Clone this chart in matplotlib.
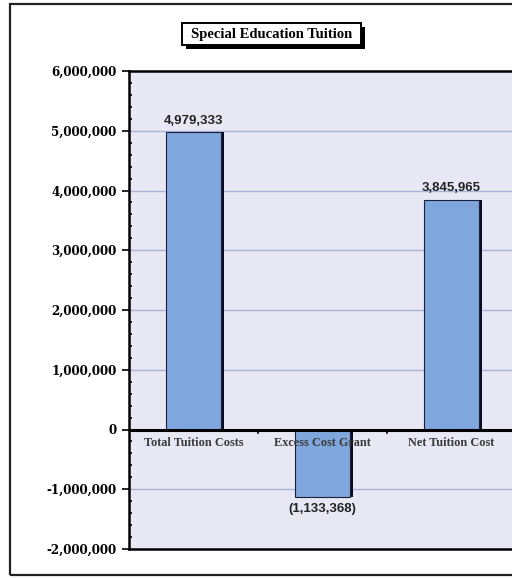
import matplotlib.pyplot as plt
import matplotlib.patches as patches
from matplotlib.ticker import MultipleLocator, FuncFormatter

# Tuition figures
categories = ["Total Tuition Costs", "Excess Cost Grant", "Net Tuition Cost"]
amounts = [4979333, -1133368, 3845965]
bar_labels = ["4,979,333", "(1,133,368)", "3,845,965"]

W, H = 512, 578
fig = plt.figure(figsize=(W / 100, H / 100), dpi=100)
fig.patch.set_facecolor("white")


def fig_rect(x0, y0, x1, y1, **kw):
    # rectangle given in pixel coords measured from the top-left corner
    r = patches.Rectangle((x0 / W, 1 - y1 / H), (x1 - x0) / W, (y1 - y0) / H,
                          transform=fig.transFigure, clip_on=False, **kw)
    fig.patches.append(r)
    return r


# outer frame of the chart
fig_rect(10, 4, 530, 575, fill=False, edgecolor="#222222", linewidth=1.6)

ax = fig.add_axes([129 / W, 1 - 549 / H, 387 / W, 478 / H])
ax.set_facecolor("#E8E8F4")

x = range(len(categories))
# drop shadow behind each bar
ax.bar([i + 0.025 for i in x], amounts, width=0.42, color="#0B0B1E", zorder=2)
ax.bar(x, amounts, width=0.42, color="#80A6DE", edgecolor="#1A1F3A",
       linewidth=0.8, zorder=3)

ax.set_xlim(-0.5, 2.5)
ax.set_ylim(-2000000, 6000000)
ax.yaxis.set_major_locator(MultipleLocator(1000000))
ax.yaxis.set_minor_locator(MultipleLocator(200000))
ax.yaxis.set_major_formatter(FuncFormatter(lambda v, p: f"{int(v):,}"))
ax.grid(axis="y", color="#A9B3D6", linewidth=1.0, zorder=1)
ax.set_axisbelow(True)
ax.axhline(0, color="black", linewidth=2.2, zorder=4)

for lbl in ax.get_yticklabels():
    lbl.set_fontfamily("DejaVu Serif")
    lbl.set_fontweight("bold")
    lbl.set_fontsize(8.6)
ax.tick_params(axis="y", which="major", length=5, width=1.2, pad=4, direction="out")
ax.tick_params(axis="y", which="minor", length=2, width=1.2, direction="in")

ax.set_xticks([])
for b in [0.5, 1.5]:
    ax.plot([b, b], [0, -60000], color="black", linewidth=1.2, zorder=5, clip_on=False)

for i, name in enumerate(categories):
    ax.text(i, -130000, name, ha="center", va="top", fontsize=8.8,
            family="Liberation Serif", fontweight="bold", color="#3A3A3A", zorder=6)

for i, (v, t) in enumerate(zip(amounts, bar_labels)):
    if v >= 0:
        ax.text(i, v + 90000, t, ha="center", va="bottom", fontsize=9.5,
                family="Liberation Sans", fontweight="bold", color="#222222")
    else:
        ax.text(i, v - 90000, t, ha="center", va="top", fontsize=9.5,
                family="Liberation Sans", fontweight="bold", color="#222222")

for side in ["left", "top", "bottom"]:
    ax.spines[side].set_linewidth(1.8)
    ax.spines[side].set_color("black")
ax.spines["right"].set_visible(False)

# title box with its shadow
fig_rect(186, 27, 365, 49, facecolor="black", edgecolor="none")
fig_rect(182, 23, 361, 45, facecolor="white", edgecolor="black", linewidth=1.4)
fig.text(271.5 / W, 1 - 34.5 / H, "Special Education Tuition", ha="center", va="center",
         fontsize=10.5, family="Liberation Serif", fontweight="bold")

fig.savefig("out.png", dpi=100)
